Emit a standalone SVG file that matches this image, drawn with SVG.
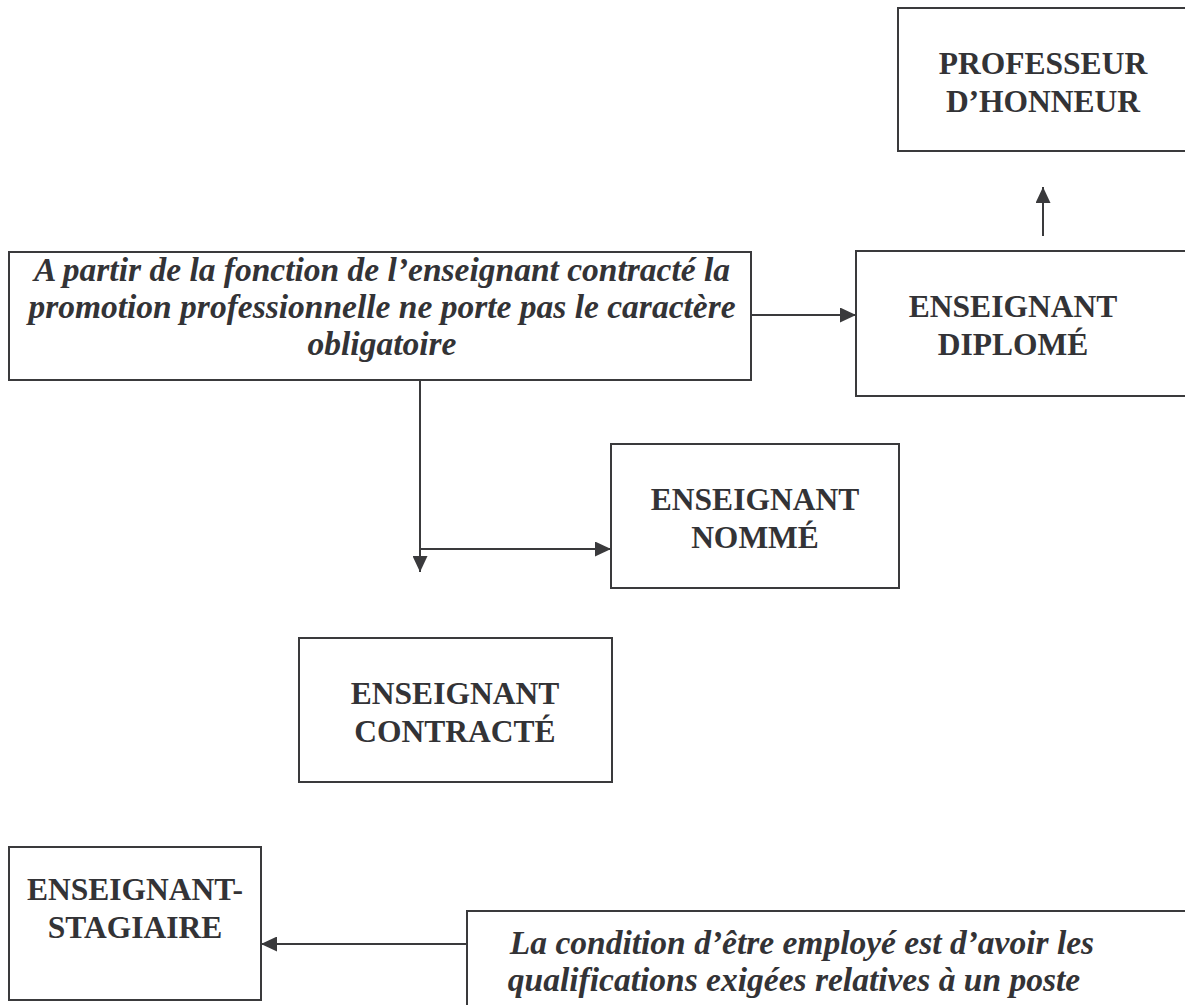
<svg xmlns="http://www.w3.org/2000/svg" width="1185" height="1005" viewBox="0 0 1185 1005">
<style>
.box{fill:#fff;stroke:#3a3a3c;stroke-width:2}
.t{font-family:"Liberation Serif","Times New Roman",serif;font-size:31.5px;font-weight:bold;fill:#333336;text-anchor:middle}
.i{font-style:italic;font-size:33.5px}
.c{stroke:#3a3a3c;stroke-width:2;fill:none}
</style>
<defs>
<marker id="ah" markerUnits="userSpaceOnUse" markerWidth="16" markerHeight="15" refX="16" refY="7.5" orient="auto">
<path d="M0,0 L16,7.5 L0,15 z" fill="#3a3a3c"/>
</marker>
</defs>
<rect width="1185" height="1005" fill="#fff"/>
<g id="connectors">
<line class="c" x1="1043" y1="236" x2="1043" y2="187" marker-end="url(#ah)"/>
<line class="c" x1="751" y1="315" x2="856" y2="315" marker-end="url(#ah)"/>
<line class="c" x1="420" y1="380" x2="420" y2="572" marker-end="url(#ah)"/>
<line class="c" x1="420" y1="549" x2="611" y2="549" marker-end="url(#ah)"/>
<line class="c" x1="467" y1="944" x2="261" y2="944" marker-end="url(#ah)"/>
</g>
<g id="professeur">
<rect class="box" x="898" y="8" width="300" height="143"/>
<text class="t" x="1043" y="74">PROFESSEUR</text>
<text class="t" x="1043" y="112">D’HONNEUR</text>
</g>
<g id="note-promotion">
<rect class="box" x="9" y="252" width="742" height="128"/>
<text class="t i" x="382" y="281">A partir de la fonction de l’enseignant contracté la</text>
<text class="t i" x="382" y="318">promotion professionnelle ne porte pas le caractère</text>
<text class="t i" x="382" y="355">obligatoire</text>
</g>
<g id="diplome">
<rect class="box" x="856" y="251" width="340" height="145"/>
<text class="t" x="1013" y="317">ENSEIGNANT</text>
<text class="t" x="1013" y="355">DIPLOMÉ</text>
</g>
<g id="nomme">
<rect class="box" x="611" y="444" width="288" height="144"/>
<text class="t" x="755" y="510">ENSEIGNANT</text>
<text class="t" x="755" y="548">NOMMÉ</text>
</g>
<g id="contracte">
<rect class="box" x="299" y="638" width="313" height="144"/>
<text class="t" x="455" y="704">ENSEIGNANT</text>
<text class="t" x="455" y="742">CONTRACTÉ</text>
</g>
<g id="stagiaire">
<rect class="box" x="9" y="847" width="252" height="153"/>
<text class="t" x="135" y="900">ENSEIGNANT-</text>
<text class="t" x="135" y="938">STAGIAIRE</text>
</g>
<g id="note-condition">
<rect class="box" x="467" y="911" width="730" height="100"/>
<text class="t i" x="802" y="954">La condition d’être employé est d’avoir les</text>
<text class="t i" x="794" y="991">qualifications exigées relatives à un poste</text>
</g>
</svg>
